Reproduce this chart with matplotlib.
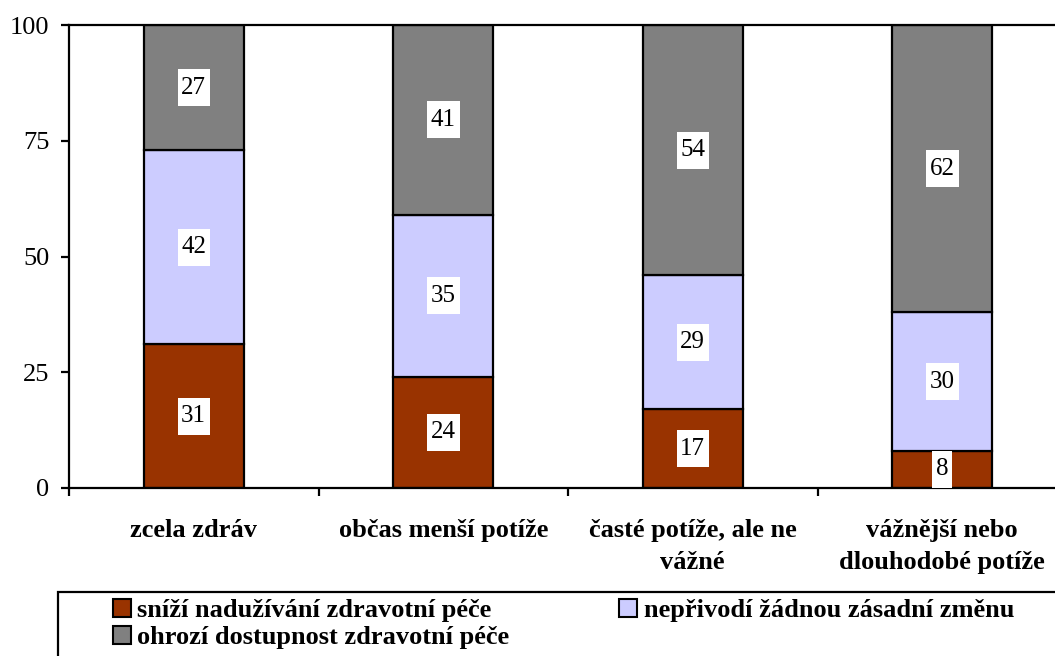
import matplotlib
matplotlib.use("Agg")
import matplotlib.pyplot as plt
from matplotlib.patches import Rectangle
from matplotlib.path import Path
from matplotlib.lines import Line2D
import numpy as np

categories = ["zcela zdráv", "občas menší potíže", "časté potíže, ale ne\nvážné",
              "vážnější nebo\ndlouhodobé potíže"]
series_names = ["sníží nadužívání zdravotní péče",
                "nepřivodí žádnou zásadní změnu",
                "ohrozí dostupnost zdravotní péče"]
reduce_overuse = [31, 24, 17, 8]
no_change = [42, 35, 29, 30]
threaten_access = [27, 41, 54, 62]
y_ticks = [0, 25, 50, 75, 100]

colors = ["#993300", "#CCCCFF", "#808080"]

plt.rcParams["font.family"] = ["Liberation Serif", "DejaVu Serif"]


def label_box(x0, y0, width, height, mutation_size):
    """White label box, padded more vertically than horizontally."""
    px, py = 0.15 * mutation_size, 0.30 * mutation_size
    x0, y0 = x0 - px, y0 - py
    x1, y1 = x0 + width + 2 * px, y0 + height + 2 * py
    return Path([(x0, y0), (x1, y0), (x1, y1), (x0, y1), (x0, y0)],
                closed=True)


fig = plt.figure(figsize=(10.55, 6.56), dpi=100)
ax = fig.add_axes([69 / 1055, 168 / 656, 998 / 1055, 463 / 656])

x = np.arange(len(categories))
width = 0.4
bottom = np.zeros(len(categories))
for vals, col in zip([reduce_overuse, no_change, threaten_access], colors):
    vals = np.array(vals, dtype=float)
    ax.bar(x, vals, width, bottom=bottom, color=col, edgecolor="black",
           linewidth=1.6, zorder=2)
    for xi, b, v in zip(x, bottom, vals):
        ax.text(xi, b + v / 2, f"{int(v)}", ha="center", va="center",
                fontsize=18, zorder=4,
                bbox=dict(boxstyle=label_box, fc="white", ec="none"))
    bottom += vals

ax.set_xlim(-0.5, len(categories) - 0.5)
ax.set_ylim(0, 100)
ax.set_yticks(y_ticks)
ax.set_yticklabels([str(t) for t in y_ticks], fontsize=19)
ax.tick_params(axis="y", direction="out", length=6, width=1.6, pad=8)

ax.set_xticks(x)
ax.set_xticklabels(categories, fontsize=19, fontweight="bold", linespacing=1.55,
                   va="top")
ax.tick_params(axis="x", which="major", length=0, pad=22)
ax.set_xticks(np.arange(-0.5, len(categories) + 0.5, 1), minor=True)
ax.tick_params(axis="x", which="minor", direction="out", length=6, width=1.6)

for side in ["left", "bottom", "top", "right"]:
    ax.spines[side].set_linewidth(1.6)

# legend frame extending past the figure edges
fig.patches.append(Rectangle((58 / 1055, -0.05), 1.1, (656 - 592) / 656 + 0.05,
                             transform=fig.transFigure, fill=False,
                             edgecolor="black", linewidth=1.6))

handles = [Line2D([], [], marker="s", linestyle="none", markersize=13,
                  markerfacecolor=c, markeredgecolor="black", markeredgewidth=1.5)
           for c in colors]
# column-major fill: first column gets items 0 and 1, second gets item 2
order = [0, 2, 1]
fig.legend([handles[i] for i in order], [series_names[i] for i in order],
           ncol=2, frameon=False,
           loc="upper left", bbox_to_anchor=(111 / 1055, 1 - 599 / 656),
           prop={"weight": "bold", "size": 19}, handlelength=0.8,
           handletextpad=0.2, columnspacing=4.1, labelspacing=0.12,
           borderaxespad=0, borderpad=0)

fig.savefig("out.png", dpi=100)
